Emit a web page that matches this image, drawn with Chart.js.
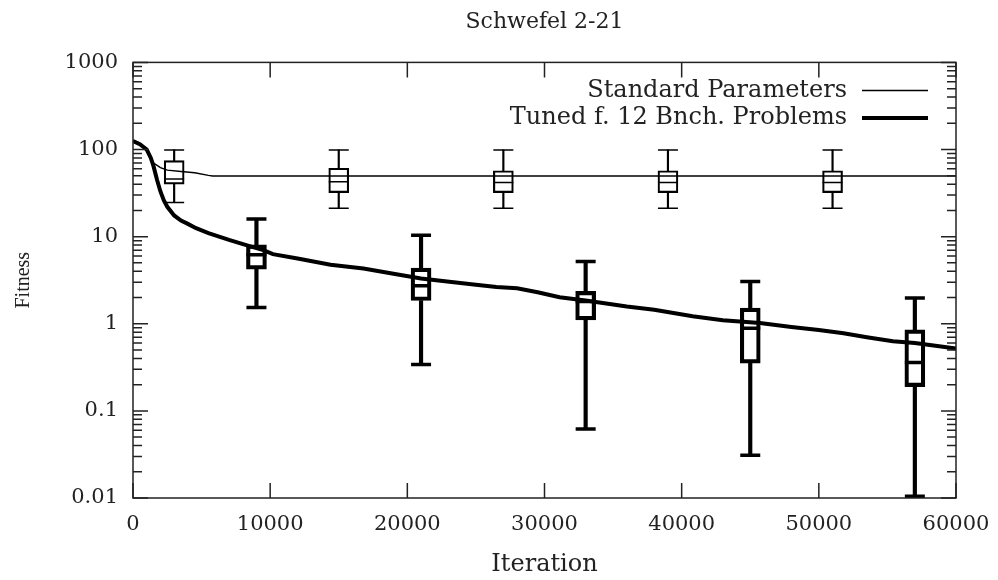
<!DOCTYPE html>
<html>
<head>
<meta charset="utf-8">
<script src="https://cdn.jsdelivr.net/npm/chart.js@4.4.0/dist/chart.umd.min.js"></script>
<style>
  html, body { margin: 0; padding: 0; background: #fff; }
  #wrap { width: 998px; height: 580px; }
</style>
</head>
<body>
<div id="wrap"><canvas id="chart"></canvas></div>
<script>
// axis ticks
const xTicks = [0, 10000, 20000, 30000, 40000, 50000, 60000];
const yTicks = [0.01, 0.1, 1, 10, 100, 1000];
const yTickLabels = ['0.01', '0.1', '1', '10', '100', '1000'];

// Standard Parameters (thin curve)
const stdIters = [0, 600, 1000, 1250, 1500, 2000, 2500, 3500, 4500, 5500, 5800, 60000];
const stdFitness = [128, 115, 100, 85, 70, 62, 58, 56, 54, 50.5, 49.8, 49.8];

// Tuned f. 12 Bnch. Problems (thick curve)
const tunedIters = [0, 500, 1000, 1300, 1500, 1750, 2000, 2250, 2500, 3000,
  3500, 4000, 4600, 5500, 7000, 8500, 9500, 10200, 12000, 14400,
  16800, 19200, 21000, 22900, 25000, 26500, 28000, 29500, 31100, 33000,
  36000, 38000, 40800, 43000, 45700, 48000, 50000, 51800, 53500, 55400,
  57000, 58500, 60000];
const tunedFitness = [125, 115, 100, 80, 64, 45, 33, 26, 22, 17.5,
  15.3, 14, 12.5, 11, 9.2, 7.8, 7.0, 6.3, 5.6, 4.75,
  4.3, 3.7, 3.3, 3.05, 2.8, 2.65, 2.55, 2.3, 2.02, 1.85,
  1.58, 1.45, 1.22, 1.1, 1.02, 0.92, 0.85, 0.78, 0.7, 0.63,
  0.6, 0.56, 0.52];

// box plots, standard
const stdBoxIters = [3000, 15000, 27000, 39000, 51000];
const stdMin = [24.6, 21.2, 21.2, 21.2, 21.2];
const stdQ1 = [40, 32, 32, 32, 32];
const stdMed = [46, 42.8, 41.7, 41.7, 41.7];
const stdQ3 = [74.6, 61, 57, 57, 57];
const stdMax = [99, 99, 99, 99, 99];

// box plots, tuned
const tunedBoxIters = [9000, 21000, 33000, 45000, 57000];
const tunedMin = [1.54, 0.34, 0.062, 0.031, 0.0105];
const tunedQ1 = [4.24, 1.85, 1.11, 0.354, 0.19];
const tunedMed = [6.2, 2.73, 1.8, 0.89, 0.36];
const tunedQ3 = [8.05, 4.35, 2.35, 1.51, 0.85];
const tunedMax = [15.9, 10.4, 5.18, 3.06, 1.97];

const INK = '#222';
Chart.defaults.font.family = '"DejaVu Serif", serif';
Chart.defaults.color = INK;

const toPoints = (xs, ys) => xs.map((x, i) => ({ x: x, y: ys[i] }));
const toRanges = (xs, lo, hi) => xs.map((x, i) => ({ x: x, y: [lo[i], hi[i]] }));

function boxDatasets(iters, mins, q1, med, q3, maxs, width) {
    const bar = { type: 'bar', grouped: false, borderSkipped: false };
    return [
        { ...bar, data: toRanges(iters, q1, q3), barThickness: 20,
          backgroundColor: 'rgba(0,0,0,0)', borderColor: '#000', borderWidth: width },
        { ...bar, data: toRanges(iters, mins, q1), barThickness: width,
          backgroundColor: '#000', borderWidth: 0 },
        { ...bar, data: toRanges(iters, q3, maxs), barThickness: width,
          backgroundColor: '#000', borderWidth: 0 },
        { type: 'line', showLine: false,
          data: toPoints(iters, mins).concat(toPoints(iters, maxs), toPoints(iters, med)),
          pointStyle: 'line', pointRadius: 10, pointBorderWidth: width,
          pointBorderColor: '#000', pointBackgroundColor: '#000' }
    ];
}

// frame and inward ticks on all four sides
const frameTicks = {
    id: 'frameTicks',
    afterDatasetsDraw(chart) {
        const { ctx, chartArea: a, scales: { x, y } } = chart;
        ctx.save();
        ctx.strokeStyle = INK;
        ctx.lineWidth = 1.5;
        ctx.strokeRect(a.left, a.top, a.right - a.left, a.bottom - a.top);
        ctx.beginPath();
        xTicks.forEach(v => {
            const px = x.getPixelForValue(v);
            ctx.moveTo(px, a.bottom); ctx.lineTo(px, a.bottom - 15);
            ctx.moveTo(px, a.top); ctx.lineTo(px, a.top + 15);
        });
        yTicks.forEach(dec => {
            for (let m = 1; m <= 9; m++) {
                const v = dec * m;
                if (v > yTicks[yTicks.length - 1] * 1.0001) break;
                const py = y.getPixelForValue(v);
                const len = m === 1 ? 15 : 9;
                ctx.moveTo(a.left, py); ctx.lineTo(a.left + len, py);
                ctx.moveTo(a.right, py); ctx.lineTo(a.right - len, py);
            }
        });
        ctx.stroke();
        ctx.restore();
    }
};

// key in the top right corner, text left of the line sample
const innerLegend = {
    id: 'innerLegend',
    afterDatasetsDraw(chart) {
        const { ctx, chartArea: a } = chart;
        const items = chart.data.datasets.filter(d => d.inLegend);
        ctx.save();
        ctx.font = '24px "DejaVu Serif"';
        ctx.fillStyle = INK;
        ctx.textAlign = 'right';
        ctx.textBaseline = 'middle';
        items.forEach((ds, i) => {
            const yy = a.top + 28 + i * 27.5;
            ctx.fillText(ds.label, a.right - 109, yy);
            ctx.beginPath();
            ctx.lineWidth = ds.borderWidth;
            ctx.strokeStyle = ds.borderColor;
            ctx.moveTo(a.right - 94, yy);
            ctx.lineTo(a.right - 28, yy);
            ctx.stroke();
        });
        ctx.restore();
    }
};

const datasets = [
    { type: 'line', label: 'Standard Parameters', inLegend: true,
      data: toPoints(stdIters, stdFitness), borderColor: '#000', borderWidth: 1.5,
      pointRadius: 0, tension: 0, fill: false },
    { type: 'line', label: 'Tuned f. 12 Bnch. Problems', inLegend: true,
      data: toPoints(tunedIters, tunedFitness), borderColor: '#000', borderWidth: 4,
      pointRadius: 0, tension: 0, fill: false },
    ...boxDatasets(stdBoxIters, stdMin, stdQ1, stdMed, stdQ3, stdMax, 1.5),
    ...boxDatasets(tunedBoxIters, tunedMin, tunedQ1, tunedMed, tunedQ3, tunedMax, 3.5)
];

new Chart(document.getElementById('chart'), {
    type: 'line',
    data: { datasets: datasets },
    options: {
        responsive: true,
        maintainAspectRatio: false,
        animation: false,
        layout: { padding: { left: 0, right: 42, top: 0, bottom: 0 } },
        plugins: {
            legend: { display: false },
            tooltip: { enabled: false },
            title: {
                display: true,
                fullSize: false,
                text: 'Schwefel 2-21',
                color: INK,
                font: { size: 22, weight: 'normal' },
                padding: { top: 9, bottom: 27 }
            }
        },
        scales: {
            x: {
                type: 'linear',
                min: 0,
                max: 60000,
                offset: false,
                afterBuildTicks: s => { s.ticks = xTicks.map(v => ({ value: v })); },
                afterFit: s => { s.height = 82; s.paddingLeft = 0; s.paddingRight = 0; },
                ticks: {
                    autoSkip: false,
                    maxRotation: 0,
                    padding: 14,
                    font: { size: 21 },
                    callback: v => String(v)
                },
                grid: { display: false, drawTicks: false },
                border: { display: false },
                title: {
                    display: true,
                    text: 'Iteration',
                    font: { size: 24 },
                    padding: { top: 0, bottom: 1 }
                }
            },
            y: {
                type: 'logarithmic',
                min: 0.01,
                max: 1000,
                afterBuildTicks: s => { s.ticks = yTicks.map(v => ({ value: v })); },
                afterFit: s => { s.width = 133; },
                ticks: {
                    autoSkip: false,
                    padding: 15,
                    font: { size: 21 },
                    callback: v => {
                        const i = yTicks.indexOf(v);
                        return i >= 0 ? yTickLabels[i] : '';
                    }
                },
                grid: { display: false, drawTicks: false },
                border: { display: false },
                title: {
                    display: true,
                    text: 'Fitness',
                    font: { family: '"Liberation Serif", serif', size: 20 },
                    padding: { top: 12, bottom: 0 }
                }
            }
        }
    },
    plugins: [frameTicks, innerLegend]
});
</script>
</body>
</html>
